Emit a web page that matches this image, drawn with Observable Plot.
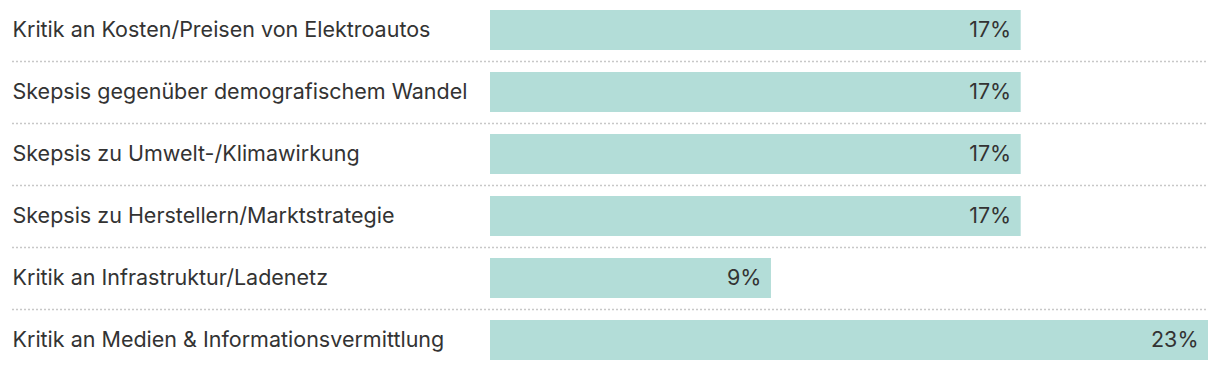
<!DOCTYPE html>
<html>
<head>
<meta charset="utf-8">
<script src="https://cdn.jsdelivr.net/npm/d3@7"></script>
<script src="https://cdn.jsdelivr.net/npm/@observablehq/plot@0.6"></script>
<style>
  html, body { margin: 0; padding: 0; background: #fff; }
  #chart svg { display: block; }
</style>
</head>
<body>
<div id="chart"></div>
<script>
const categories = [
  "Kritik an Kosten/Preisen von Elektroautos",
  "Skepsis gegenüber demografischem Wandel",
  "Skepsis zu Umwelt-/Klimawirkung",
  "Skepsis zu Herstellern/Marktstrategie",
  "Kritik an Infrastruktur/Ladenetz",
  "Kritik an Medien & Informationsvermittlung"
];
const values = [17, 17, 17, 17, 9, 23];

const data = categories.map((c, i) => ({category: c, value: values[i]}));
const separators = data.slice(0, data.length - 1);

const chart = Plot.plot({
  width: 1220,
  height: 370,
  marginLeft: 12,
  marginRight: 12,
  marginTop: 0,
  marginBottom: 0,
  style: {fontFamily: "Inter, sans-serif", fontSize: "21.5px", color: "#333", background: "#fff"},
  x: {domain: [0, 23], range: [490, 1208], axis: null},
  y: {domain: categories, range: [-1, 371], paddingInner: 0.355, paddingOuter: 0.1775, axis: null},
  marks: [
    Plot.ruleY(separators, {y: "category", dy: 31, stroke: "#c8c8c8", strokeWidth: 1.5, strokeDasharray: "2,2"}),
    Plot.barX(data, {x: "value", y: "category", fill: "#b3ddd8"}),
    Plot.text(data, {y: "category", text: "category", frameAnchor: "left", textAnchor: "start", fill: "#333", fontSize: 21.5, fontVariant: "normal"}),
    Plot.text(data, {x: "value", y: "category", text: d => d.value + "%", textAnchor: "end", dx: -10, fill: "#333", fontSize: 21.5, fontVariant: "normal"})
  ]
});
document.getElementById("chart").appendChild(chart);
</script>
</body>
</html>
